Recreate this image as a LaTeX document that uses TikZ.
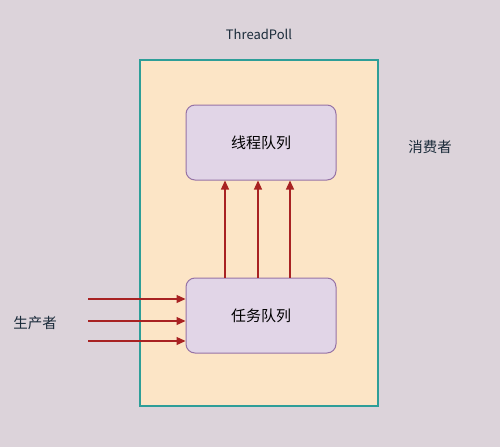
\documentclass[tikz,border=0pt]{standalone}
\usepackage{fontspec}
\setmainfont{Noto Sans CJK SC}
\usetikzlibrary{arrows.meta}
\definecolor{bg}{HTML}{DCD3DA}
\definecolor{poolfill}{HTML}{FCE5C6}
\definecolor{pooldraw}{HTML}{2E9E98}
\definecolor{qfill}{HTML}{E1D5E7}
\definecolor{qdraw}{HTML}{9673A6}
\definecolor{arr}{HTML}{A82222}
\definecolor{txt}{HTML}{1A2B3A}
\tikzset{
  pool/.style={draw=pooldraw, fill=poolfill, line width=1.2pt, minimum width=238pt, minimum height=346pt, inner sep=0pt},
  queue/.style={draw=qdraw, fill=qfill, line width=1pt, rounded corners=9pt, minimum width=150pt, minimum height=75pt, inner sep=0pt, font=\fontsize{15pt}{17pt}\selectfont, text=black},
  lbl/.style={font=\fontsize{14.5pt}{16pt}\selectfont, text=txt, inner sep=0pt},
  flow/.style={draw=arr, line width=1.3pt, -{Triangle[length=9pt,width=8pt]}},
}
\begin{document}
\begin{tikzpicture}[x=1pt,y=-1pt]
\fill[bg] (0,0) rectangle (500,447);
\useasboundingbox (0,0) rectangle (500,447);
\node[pool] (pool) at (259,233) {};
\node[lbl, font=\fontsize{13pt}{15pt}\selectfont] (title) at (259,34) {ThreadPoll};
\node[queue] (tq) at (261,142.5) {线程队列};
\node[queue] (jq) at (261,315.5) {任务队列};
\node[lbl] (cons) at (430,147) {消费者};
\node[lbl] (prod) at (35,323) {生产者};
\coordinate (p1) at (88,299);
\coordinate (p2) at (88,321);
\coordinate (p3) at (88,341);
\draw[flow] (p1) -- (p1 -| jq.west);
\draw[flow] (p2) -- (p2 -| jq.west);
\draw[flow] (p3) -- (p3 -| jq.west);
\draw[flow] (jq.north -| 225,0) -- (tq.south -| 225,0);
\draw[flow] (jq.north -| 258,0) -- (tq.south -| 258,0);
\draw[flow] (jq.north -| 290,0) -- (tq.south -| 290,0);
\end{tikzpicture}
\end{document}
